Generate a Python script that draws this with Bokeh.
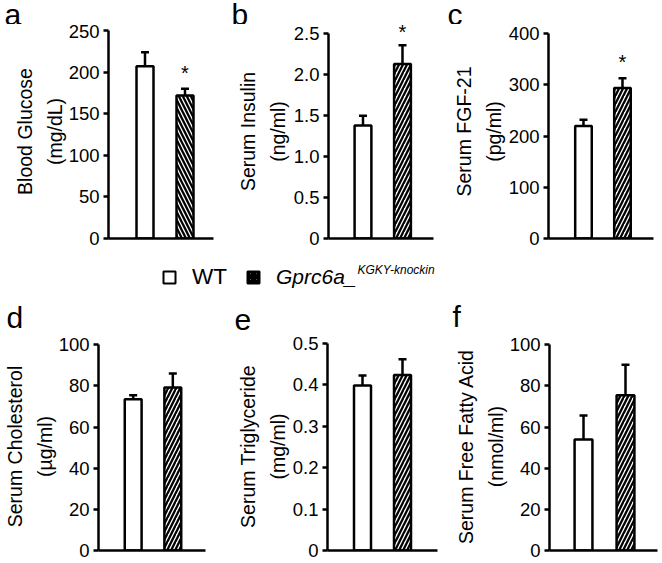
from bokeh.plotting import figure
from bokeh.models import (Range1d, FixedTicker, Whisker, TeeHead, ColumnDataSource,
                          Label, Legend, LegendItem)
from bokeh.layouts import row, column
from bokeh.embed import file_html
from bokeh.resources import INLINE

# ---------------- data ----------------
groups = ["WT", "Gprc6a_"]
group_sup = "KGKY-knockin"
group_x = [1, 2]

glucose_mean = [207, 172]
glucose_upper = [224, 180]
glucose_star = [None, 199]
glucose_ticks = [0, 50, 100, 150, 200, 250]
glucose_tick_labels = ["0", "50", "100", "150", "200", "250"]

insulin_mean = [1.38, 2.13]
insulin_upper = [1.50, 2.36]
insulin_star = [None, 2.52]
insulin_ticks = [0, 0.5, 1.0, 1.5, 2.0, 2.5]
insulin_tick_labels = ["0", "0.5", "1.0", "1.5", "2.0", "2.5"]

fgf21_mean = [220, 294]
fgf21_upper = [232, 313]
fgf21_star = [None, 345]
fgf21_ticks = [0, 100, 200, 300, 400]
fgf21_tick_labels = ["0", "100", "200", "300", "400"]

chol_mean = [73.5, 79.3]
chol_upper = [75.5, 86.0]
chol_star = [None, None]
chol_ticks = [0, 20, 40, 60, 80, 100]
chol_tick_labels = ["0", "20", "40", "60", "80", "100"]

tg_mean = [0.398, 0.423]
tg_upper = [0.422, 0.461]
tg_star = [None, None]
tg_ticks = [0, 0.1, 0.2, 0.3, 0.4, 0.5]
tg_tick_labels = ["0", "0.1", "0.2", "0.3", "0.4", "0.5"]

ffa_mean = [54, 75.5]
ffa_upper = [65.6, 90.3]
ffa_star = [None, None]
ffa_ticks = [0, 20, 40, 60, 80, 100]
ffa_tick_labels = ["0", "20", "40", "60", "80", "100"]

FONT = "Liberation Sans"
BAR_W = 0.425
LW = 2.5

panels = [
    dict(letter="a", title="Blood Glucose\n(mg/dL)", mean=glucose_mean, upper=glucose_upper,
         star=glucose_star, ticks=glucose_ticks, labels=glucose_tick_labels, hatch="\\"),
    dict(letter="b", title="Serum Insulin\n(ng/ml)", mean=insulin_mean, upper=insulin_upper,
         star=insulin_star, ticks=insulin_ticks, labels=insulin_tick_labels, hatch="/"),
    dict(letter="c", title="Serum FGF-21\n(pg/ml)", mean=fgf21_mean, upper=fgf21_upper,
         star=fgf21_star, ticks=fgf21_ticks, labels=fgf21_tick_labels, hatch="/"),
    dict(letter="d", title="Serum Cholesterol\n(\u00b5g/ml)", mean=chol_mean, upper=chol_upper,
         star=chol_star, ticks=chol_ticks, labels=chol_tick_labels, hatch="/"),
    dict(letter="e", title="Serum Triglyceride\n(mg/ml)", mean=tg_mean, upper=tg_upper,
         star=tg_star, ticks=tg_ticks, labels=tg_tick_labels, hatch="/"),
    dict(letter="f", title="Serum Free Fatty Acid\n(nmol/ml)", mean=ffa_mean, upper=ffa_upper,
         star=ffa_star, ticks=ffa_ticks, labels=ffa_tick_labels, hatch="/"),
]

# layout geometry (pixels); panels in one row share top/bottom borders
geoms = [
    dict(w=220, h=230, bl=108, br=7, bt=0, bb=16, top_px=6.0, x0=0.0875, x1=2.7125,
         lx=4, ly=-6.3, so=0),
    dict(w=220, h=230, bl=108, br=7, bt=0, bb=16, top_px=9.3, x0=0.127, x1=2.785,
         lx=231, ly=-6.3, so=2),
    dict(w=222, h=230, bl=108, br=9, bt=0, bb=16, top_px=9.3, x0=0.103, x1=2.795,
         lx=447, ly=-6.3, so=1),
    dict(w=220, h=229, bl=97, br=15, bt=8, bb=13, top_px=2.3, x0=0.125, x1=2.825,
         lx=6, ly=0.6, so=0),
    dict(w=220, h=229, bl=107, br=3, bt=8, bb=13, top_px=0.7, x0=0.125, x1=2.875,
         lx=234, ly=4.1, so=1),
    dict(w=222, h=229, bl=109, br=5, bt=8, bb=13, top_px=2.3, x0=0.19, x1=2.762,
         lx=452, ly=1.1, so=0),
]


def blank_strip(w, h):
    s = figure(width=w, height=h, output_backend="svg", toolbar_location=None,
               x_range=Range1d(0, 1), y_range=Range1d(0, 1), min_border=0,
               x_axis_location=None, y_axis_location=None)
    s.outline_line_color = None
    s.grid.visible = False
    return s


def make_panel(spec, g):
    fh = g["h"] - g["bt"] - g["bb"]
    top = spec["ticks"][-1]
    y_end = top * fh / (fh - g["top_px"])
    p = figure(width=g["w"], height=g["h"], output_backend="svg", toolbar_location=None,
               x_range=Range1d(g["x0"], g["x1"]),
               y_range=Range1d(spec["ticks"][0], y_end),
               min_border_left=g["bl"], min_border_right=g["br"],
               min_border_top=g["bt"], min_border_bottom=g["bb"])
    p.outline_line_color = None
    p.grid.visible = False
    p.background_fill_color = "white"
    p.border_fill_color = "white"

    src = ColumnDataSource(dict(x=group_x, top=spec["mean"], upper=spec["upper"],
                                hatch=[" ", spec["hatch"]]))
    p.vbar(x="x", top="top", bottom=0, width=BAR_W, source=src,
           fill_color="white", line_color="black", line_width=LW,
           hatch_pattern="hatch", hatch_color="black", hatch_weight=2.3, hatch_scale=8)
    p.add_layout(Whisker(source=src, base="x", upper="upper", lower="top",
                         dimension="height", line_color="black", line_width=LW,
                         upper_head=TeeHead(size=8, line_width=LW, line_color="black"),
                         lower_head=None))
    for xi, sy in zip(group_x, spec["star"]):
        if sy is not None:
            p.add_layout(Label(x=xi, y=sy, text="*", text_align="center",
                               text_baseline="middle", text_font=FONT,
                               text_font_size="20px", text_color="black"))

    yax = p.yaxis[0]
    yax.ticker = FixedTicker(ticks=spec["ticks"])
    yax.bounds = (spec["ticks"][0], top)
    yax.major_label_overrides = {t: l for t, l in zip(spec["ticks"], spec["labels"])}
    yax.axis_label = spec["title"]
    yax.axis_label_text_font = FONT
    yax.axis_label_text_font_size = "19.5px"
    yax.axis_label_text_font_style = "normal"
    yax.axis_label_text_color = "black"
    yax.axis_label_text_line_height = 1.35
    yax.axis_label_standoff = g["so"]
    yax.major_label_text_font = FONT
    yax.major_label_text_font_size = "18.5px"
    yax.major_label_text_color = "black"
    yax.major_label_standoff = 4
    yax.axis_line_width = LW
    yax.axis_line_color = "black"
    yax.major_tick_line_width = LW
    yax.major_tick_line_color = "black"
    yax.major_tick_in = 0
    yax.major_tick_out = 5
    yax.minor_tick_line_color = None

    xax = p.xaxis[0]
    xax.ticker = FixedTicker(ticks=[])
    xax.major_label_text_font_size = "0px"
    xax.major_tick_line_color = None
    xax.minor_tick_line_color = None
    xax.axis_line_width = LW
    xax.axis_line_color = "black"
    return p


figs = [make_panel(s, g) for s, g in zip(panels, geoms)]


def letter_strip(idx, h):
    s = blank_strip(662, h)
    for i in idx:
        g = geoms[i]
        s.add_layout(Label(x=g["lx"], y=g["ly"], x_units="screen", y_units="screen",
                           text=panels[i]["letter"], text_font=FONT, text_font_size="30px",
                           text_baseline="bottom", text_color="black"))
    return s


strip_top = letter_strip([0, 1, 2], 24)
strip_bottom = letter_strip([3, 4, 5], 42)

# ---------------- legend strip ----------------
leg = blank_strip(662, 38)
# legend proxies (kept outside the visible range; only their legend glyphs are shown)
r_wt = leg.scatter(x=[5], y=[5], marker="square", size=12, fill_color="white",
                   line_color="black", line_width=2)
r_ki = leg.scatter(x=[5], y=[5], marker="square", size=12, fill_color="white",
                   line_color="black", line_width=2, hatch_pattern="\\",
                   hatch_color="black", hatch_weight=3, hatch_scale=6)

common = dict(orientation="horizontal", glyph_width=30, glyph_height=30, label_standoff=8,
              label_text_font=FONT, label_text_color="black",
              padding=0, margin=0, spacing=0, border_line_color=None,
              background_fill_alpha=0, label_height=12, label_width=10)
lg1 = Legend(items=[LegendItem(label=groups[0], renderers=[r_wt])], location=(154, 0),
             label_text_font_size="22.5px", **common)
lg2 = Legend(items=[LegendItem(label=groups[1], renderers=[r_ki])], location=(238, 0),
             label_text_font_style="italic", label_text_font_size="21px", **common)
leg.add_layout(lg1)
leg.add_layout(lg2)
leg.add_layout(Label(x=357, y=16, x_units="screen", y_units="screen", text=group_sup,
                     text_font=FONT, text_font_style="italic", text_font_size="12px",
                     text_color="black"))

layout = column(strip_top, row(*figs[:3], spacing=0), leg,
                strip_bottom, row(*figs[3:], spacing=0), spacing=0)

open("out.html", "w").write(file_html(layout, INLINE))
